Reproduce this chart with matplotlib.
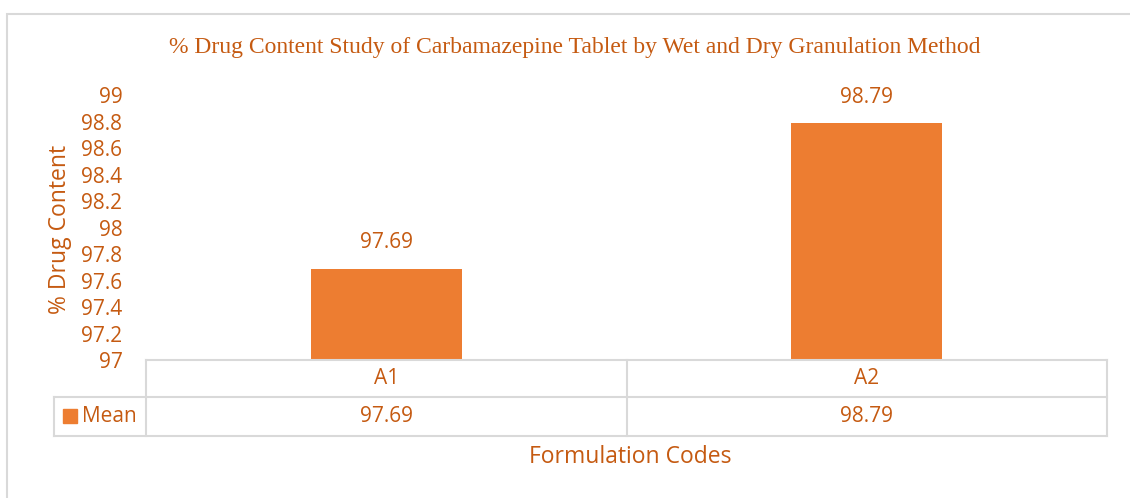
import matplotlib
matplotlib.use("Agg")
import matplotlib.pyplot as plt
from matplotlib.patches import Rectangle
from matplotlib.lines import Line2D

# ---- data ----
categories = ["A1", "A2"]
series_name = "Mean"
mean_values = [97.69, 98.79]
y_ticks = [97, 97.2, 97.4, 97.6, 97.8, 98, 98.2, 98.4, 98.6, 98.8, 99]
y_tick_labels = ["97", "97.2", "97.4", "97.6", "97.8", "98", "98.2", "98.4", "98.6", "98.8", "99"]
title = "% Drug Content Study of Carbamazepine Tablet by Wet and Dry Granulation Method"
y_label = "% Drug Content"
x_label = "Formulation Codes"

W, H = 1130, 498
BAR = "#ED7D31"
TXT = "#C55A11"
GRID = "#D9D9D9"
SANS = ["Open Sans", "DejaVu Sans"]
FS = 15

fig = plt.figure(figsize=(W / 100, H / 100), dpi=100)

def fx(px):
    return px / W

def fy(py):
    return 1 - py / H

# outer chart border (extends beyond the right/bottom edges)
fig.patches.append(Rectangle((fx(7), fy(H + 10)), fx(W + 20 - 7), fy(14) - fy(H + 10),
                             transform=fig.transFigure, fill=False, edgecolor=GRID, linewidth=1.5))

L, R, T, B = 146, 1107, 95, 360
ax = fig.add_axes([fx(L), fy(B), fx(R) - fx(L), fy(T) - fy(B)])
x = list(range(len(categories)))
ax.bar(x, mean_values, width=0.315, color=BAR, zorder=2)
ax.set_xlim(-0.5, len(categories) - 0.5)
ax.set_ylim(97, 99)
ax.set_yticks(y_ticks)
ax.set_yticklabels(y_tick_labels, family=SANS, fontsize=FS, color=TXT)
ax.tick_params(axis="y", length=0, pad=17)
ax.set_xticks([])
for s in ax.spines.values():
    s.set_visible(False)

for xi, v in zip(x, mean_values):
    ax.annotate(f"{v:.2f}", (xi, v), xytext=(0, 11), textcoords="offset points",
                ha="center", va="bottom", family=SANS, fontsize=FS, color=TXT)

# data table below the axes
r1_bot, r2_bot = 397, 436
lines = [
    ((L, R), (B, B)),
    ((54, R), (r1_bot, r1_bot)),
    ((54, R), (r2_bot, r2_bot)),
    ((54, 54), (r1_bot, r2_bot)),
    ((L, L), (B, r2_bot)),
    ((R, R), (B, r2_bot)),
]
ncat = len(categories)
for i in range(1, ncat):
    xb = L + (R - L) * i / ncat
    lines.append(((xb, xb), (B, r2_bot)))
for (xs, ys) in lines:
    fig.add_artist(Line2D([fx(xs[0]), fx(xs[1])], [fy(ys[0]), fy(ys[1])],
                          transform=fig.transFigure, color=GRID, linewidth=1.5))

for i, (c, v) in enumerate(zip(categories, mean_values)):
    xc = L + (R - L) * (i + 0.5) / ncat
    fig.text(fx(xc), fy((B + r1_bot) / 2), c, ha="center", va="center",
             family=SANS, fontsize=FS, color=TXT)
    fig.text(fx(xc), fy((r1_bot + r2_bot) / 2), f"{v:.2f}", ha="center", va="center",
             family=SANS, fontsize=FS, color=TXT)

# legend key in the table
fig.patches.append(Rectangle((fx(63), fy(423)), fx(14), fy(409) - fy(423),
                             transform=fig.transFigure, color=BAR))
fig.text(fx(82), fy((r1_bot + r2_bot) / 2), series_name, ha="left", va="center",
         family=SANS, fontsize=FS, color=TXT)

fig.text(fx(575), fy(48), title, ha="center", va="center",
         family=["Liberation Serif", "DejaVu Serif"], fontsize=17, color=TXT)
fig.text(fx(60), fy(229), y_label, ha="center", va="center", rotation=90,
         family=SANS, fontsize=16.5, color=TXT)
fig.text(fx(630), fy(457), x_label, ha="center", va="center",
         family=SANS, fontsize=16.5, color=TXT)

fig.savefig("out.png", dpi=100)
